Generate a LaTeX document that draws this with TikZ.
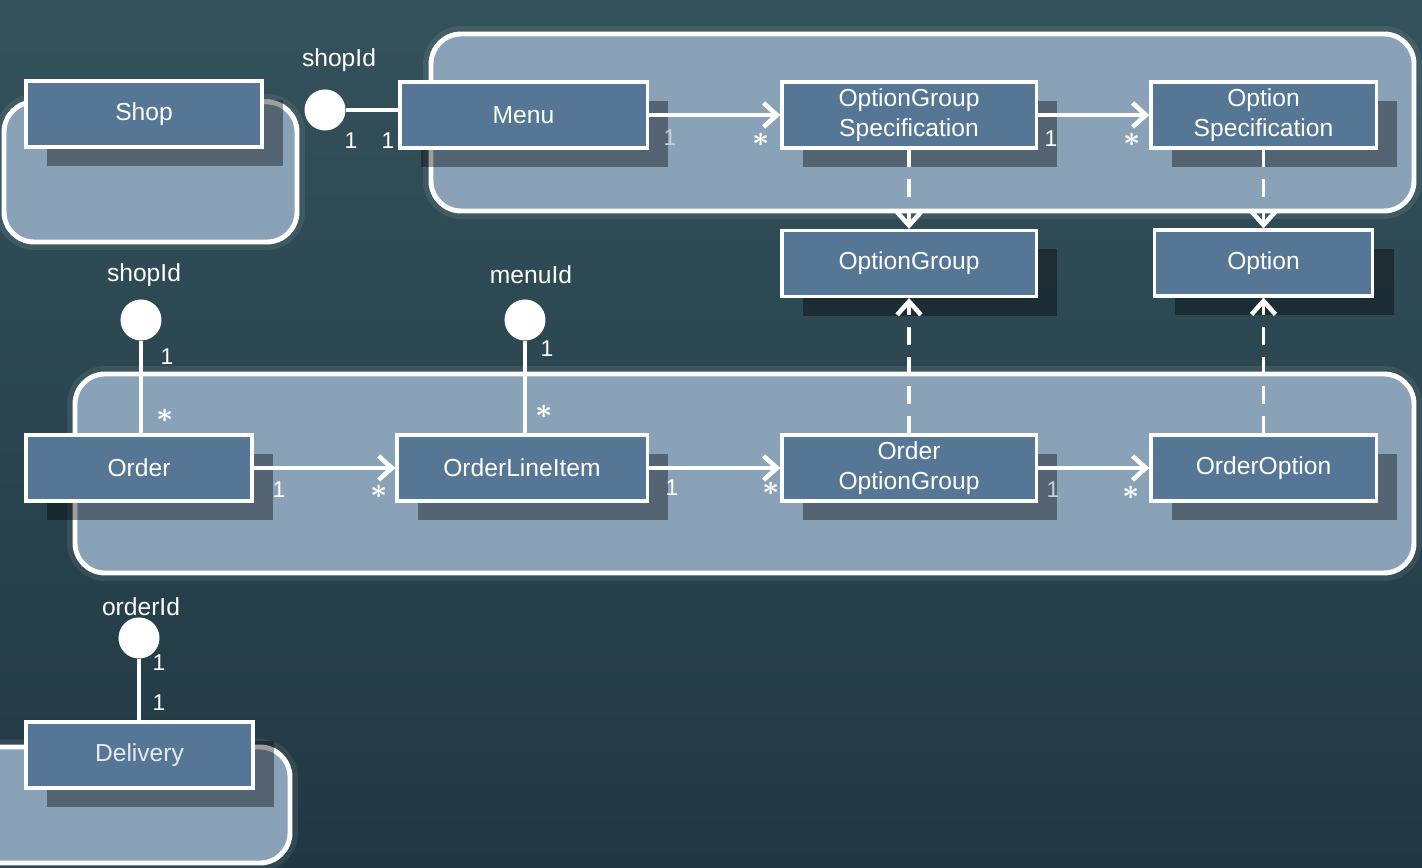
\documentclass[tikz,border=0pt]{standalone}
\usepackage{amsmath}
\usepackage{fontspec}
\setmainfont{Liberation Sans}
\usetikzlibrary{arrows.meta,shadows}

\definecolor{board}{HTML}{34525C}
\definecolor{boardlow}{HTML}{203843}
\definecolor{modulefill}{HTML}{8AA2B8}
\definecolor{entityfill}{HTML}{567696}

\begin{document}
\begin{tikzpicture}[x=0.01cm, y=-0.01cm,
    module/.style={draw=white, line width=1.4pt, fill=modulefill, rounded corners=0.3cm,
      preaction={draw=white, draw opacity=.08, line width=4.5pt}},
    entity/.style={draw=white, line width=0.9pt, fill=entityfill, text=white,
      font=\fontsize{7}{8.5}\selectfont, align=center, inner sep=0pt,
      minimum height=0.66cm,
      drop shadow={shadow xshift=0.21cm, shadow yshift=-0.19cm, opacity=.38, fill=black}},
    idball/.style={circle, fill=white, minimum size=0.41cm, inner sep=0pt},
    idname/.style={text=white, font=\fontsize{7}{8}\selectfont, inner sep=0pt},
    mult/.style={text=white, font=\fontsize{6.5}{7}\selectfont, inner sep=0pt},
    many/.style={mult, font=\fontsize{8.5}{9}\selectfont},
    dim/.style={text=white!50!modulefill},
    link/.style={white, line width=1.05pt},
    assoc/.style={link, -{Straight Barb[length=3.8pt, width=6.8pt, line width=1.3pt]}},
    ref/.style={assoc, dash pattern=on 5pt off 3.4pt}]

    \useasboundingbox (0,0) rectangle (1422,868);
    \clip (0,0) rectangle (1422,868);
    \shade[top color=board, bottom color=boardlow] (0,0) rectangle (1422,868);

    \draw[module] (4,102) rectangle (297,242);
    \draw[module] (431,34) rectangle (1414,211);
    \draw[module] (75,374) rectangle (1414,573);
    \draw[module] (-30,747) rectangle (290,863);

    \node[entity, minimum width=2.36cm] (shop) at (144,114) {Shop};
    \node[entity, minimum width=2.47cm] (menu) at (523.5,115) {Menu};
    \node[entity, minimum width=2.54cm] (groupspec) at (909,115) {OptionGroup\\Specification};
    \node[entity, minimum width=2.25cm] (optionspec) at (1263.5,115) {Option\\Specification};
    \node[entity, minimum width=2.54cm] (optiongroup) at (909,263.5) {OptionGroup};
    \node[entity, minimum width=2.18cm] (option) at (1263.5,263) {Option};
    \node[entity, minimum width=2.26cm] (order) at (139,468) {Order};
    \node[entity, minimum width=2.5cm] (lineitem) at (522,468) {OrderLineItem};
    \node[entity, minimum width=2.54cm] (ordergroup) at (909,468) {Order\\OptionGroup};
    \node[entity, minimum width=2.25cm] (orderoption) at (1263.5,468) {OrderOption};
    \node[entity, minimum width=2.27cm, text=white!85!entityfill] (delivery) at (139.5,755) {Delivery};

    \node[idball] (menushop) at (325,110) {};
    \node[idball] (ordershop) at (141,320) {};
    \node[idball] (itemmenu) at (525,320) {};
    \node[idball] (deliveryorder) at (139,638) {};
    \node[idname] (menushopname) at (339,60) {shopId};
    \node[idname] (ordershopname) at (144,275) {shopId};
    \node[idname] (itemmenuname) at (531,275) {menuId};
    \node[idname] (deliveryordername) at (141,607) {orderId};

    \draw[link] (menushop) -- (menushop -| menu.west);
    \draw[link] (ordershop) -- (ordershop |- order.north);
    \draw[link] (itemmenu) -- (itemmenu |- lineitem.north);
    \draw[link] (deliveryorder) -- (deliveryorder |- delivery.north);

    \draw[assoc] (menu) -- (groupspec);
    \draw[assoc] (groupspec) -- (optionspec);
    \draw[assoc] (order) -- (lineitem);
    \draw[assoc] (lineitem) -- (ordergroup);
    \draw[assoc] (ordergroup) -- (orderoption);
    \draw[ref] (groupspec) -- (optiongroup);
    \draw[ref] (optionspec) -- (option);
    \draw[ref] (ordergroup) -- (optiongroup);
    \draw[ref] (orderoption) -- (option);

    \node[mult] (m1) at (351,141) {1};
    \node[mult] (m2) at (388,141) {1};
    \node[mult, dim] (m3) at (670,138) {1};
    \node[many] (m4) at (761,140) {$\boldsymbol{\ast}$};
    \node[mult] (m5) at (1051,139) {1};
    \node[many] (m6) at (1132,140) {$\boldsymbol{\ast}$};
    \node[mult] (m7) at (167,357) {1};
    \node[many] (m8) at (165,416) {$\boldsymbol{\ast}$};
    \node[mult] (m9) at (547,349) {1};
    \node[many] (m10) at (544,412) {$\boldsymbol{\ast}$};
    \node[mult] (m11) at (279,490) {1};
    \node[many] (m12) at (379,492) {$\boldsymbol{\ast}$};
    \node[mult] (m13) at (672,488) {1};
    \node[many] (m14) at (771,489) {$\boldsymbol{\ast}$};
    \node[mult, dim] (m15) at (1053,490) {1};
    \node[many] (m16) at (1131,493) {$\boldsymbol{\ast}$};
    \node[mult] (m17) at (159,663) {1};
    \node[mult] (m18) at (159,703) {1};

\end{tikzpicture}
\end{document}
